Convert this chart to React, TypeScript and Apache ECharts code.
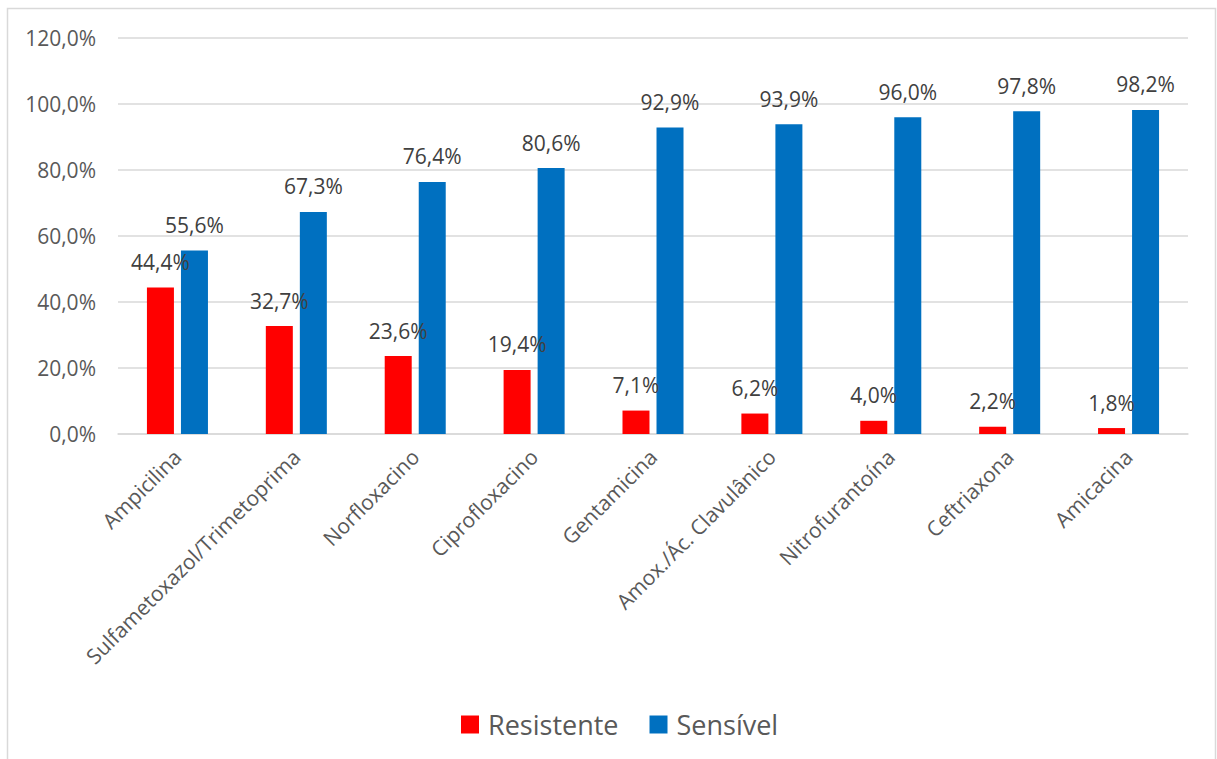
import React, { useEffect, useRef } from "react";
import * as echarts from "echarts";

const categories = [
  "Ampicilina",
  "Sulfametoxazol/Trimetoprima",
  "Norfloxacino",
  "Ciprofloxacino",
  "Gentamicina",
  "Amox./Ác. Clavulânico",
  "Nitrofurantoína",
  "Ceftriaxona",
  "Amicacina",
];
const resistente = [44.4, 32.7, 23.6, 19.4, 7.1, 6.2, 4.0, 2.2, 1.8];
const sensivel = [55.6, 67.3, 76.4, 80.6, 92.9, 93.9, 96.0, 97.8, 98.2];

const FONT = "'Open Sans', 'Noto Sans', sans-serif";
const pct = (v: number) => v.toFixed(1).replace(".", ",") + "%";

export default function App() {
  const ref = useRef<HTMLDivElement>(null);
  useEffect(() => {
    if (!ref.current) return;
    const chart = echarts.init(ref.current, null, { renderer: "svg" });
    const labelCfg = {
      show: true,
      position: "top",
      distance: 15,
      color: "#404040",
      fontSize: 21,
      fontFamily: FONT,
      formatter: (p: any) => pct(p.value),
    };
    chart.setOption({
      animation: false,
      backgroundColor: "#ffffff",
      textStyle: { fontFamily: FONT },
      graphic: [
        {
          type: "rect",
          shape: { x: 7.5, y: 8.5, width: 1208, height: 800 },
          style: { fill: "none", stroke: "#d9d9d9", lineWidth: 1.5 },
          silent: true,
        },
      ],
      grid: { left: 118, right: 29, top: 38, bottom: 325, containLabel: false },
      legend: {
        left: 456,
        top: 706,
        itemWidth: 18,
        itemHeight: 18,
        itemGap: 31,
        icon: "rect",
        textStyle: {
          fontSize: 27,
          color: "#595959",
          fontFamily: FONT,
          padding: [0, 0, 0, 4],
        },
        data: ["Resistente", "Sensível"],
      },
      xAxis: {
        type: "category",
        data: categories,
        axisLine: { lineStyle: { color: "#d9d9d9", width: 1.5 } },
        axisTick: { show: false },
        axisLabel: {
          rotate: 45,
          interval: 0,
          margin: 19,
          color: "#595959",
          fontSize: 21,
          fontFamily: FONT,
        },
      },
      yAxis: {
        type: "value",
        min: 0,
        max: 120,
        interval: 20,
        axisLine: { show: false },
        axisTick: { show: false },
        splitLine: { lineStyle: { color: "#d9d9d9", width: 1.5 } },
        axisLabel: {
          margin: 22,
          color: "#595959",
          fontSize: 21,
          fontFamily: FONT,
          formatter: (v: number) => pct(v),
        },
      },
      series: [
        {
          name: "Resistente",
          type: "bar",
          data: resistente,
          barWidth: 27,
          barGap: "26%",
          itemStyle: { color: "#ff0000" },
          label: labelCfg,
        },
        {
          name: "Sensível",
          type: "bar",
          data: sensivel,
          barWidth: 27,
          barGap: "26%",
          itemStyle: { color: "#0070c0" },
          label: labelCfg,
        },
      ],
    });
    return () => chart.dispose();
  }, []);
  return (
    <div
      ref={ref}
      style={{ position: "fixed", left: 0, top: 0, width: 1217, height: 759 }}
    />
  );
}
